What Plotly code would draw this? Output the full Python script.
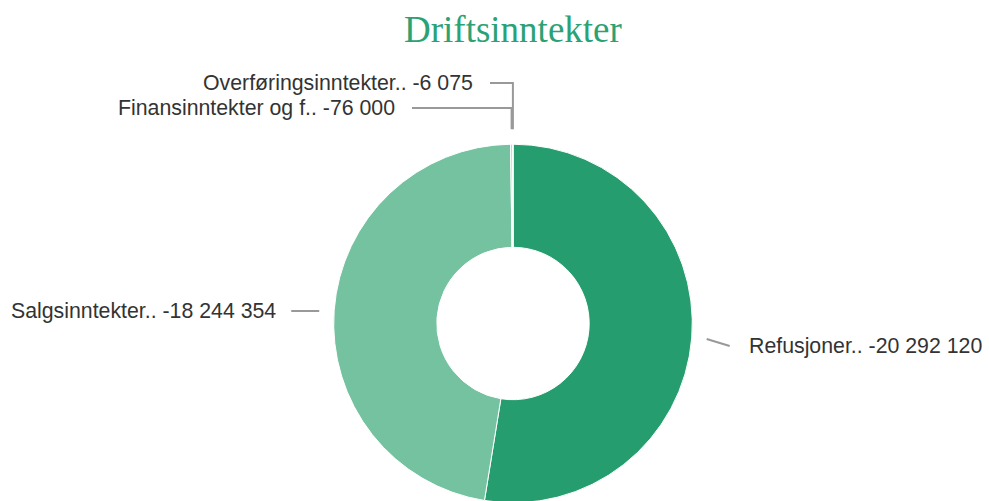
import math
import plotly.graph_objects as go

# ---- data ----
labels = ["Refusjoner..", "Salgsinntekter..", "Finansinntekter og f..", "Overføringsinntekter.."]
values = [20292120, 18244354, 76000, 6075]
display_values = ["-20 292 120", "-18 244 354", "-76 000", "-6 075"]
colors = ["#259d6f", "#74c2a0", "#a9dcc4", "#d4eee2"]
title_text = "Driftsinntekter"

# ---- layout constants (page pixels) ----
W, H = 989, 503
cx, cy = 513, 323.5          # pie centre
R = 179.3                    # outer radius
dom_h = 2 * (H - cy)
dom_w = 2 * R

def px(x, y):
    """page pixel -> paper coords"""
    return x / W, 1 - y / H

fig = go.Figure(go.Pie(
    labels=labels,
    values=values,
    sort=False,
    direction="clockwise",
    rotation=0,
    hole=0.425,
    marker=dict(colors=colors, line=dict(color="white", width=1)),
    textinfo="none",
    hoverinfo="label+value",
    showlegend=False,
    domain=dict(x=[(cx - dom_w / 2) / W, (cx + dom_w / 2) / W],
                y=[0, min(1, dom_h / H)]),
))

# mid-angles of slices (clockwise from 12 o'clock)
total = sum(values)
mids = []
acc = 0
for v in values:
    mids.append((acc + v / 2) / total * 2 * math.pi)
    acc += v

label_y = [346, 311, 108, 83]
shapes = []
annotations = []
line_style = dict(color="#999999", width=2)
Rl = R + 15
for i, (lab, dv, th) in enumerate(zip(labels, display_values, mids)):
    ax = cx + Rl * math.sin(th)
    ay = cy - Rl * math.cos(th)
    ly = label_y[i]
    text = f"{lab} {dv}"
    if i == 0:
        ex = ax + 23
        pts = [(ax, ay), (ex, ly)]
        tx, anchor = ex + 17, "left"
    elif i == 1:
        ex = ax - 28
        pts = [(ax, ly), (ex, ly)]
        tx, anchor = ex - 13, "right"
    else:
        ex = 490 if i == 3 else 412
        pts = [(ax, ay), (ax, ly), (ex, ly)]
        tx, anchor = ex - 15, "right"
    path = "M " + " L ".join(f"{px(x, y)[0]},{px(x, y)[1]}" for x, y in pts)
    shapes.append(dict(type="path", path=path, xref="paper", yref="paper", line=line_style))
    X, Y = px(tx, ly)
    annotations.append(dict(
        x=X, y=Y, xref="paper", yref="paper", text=text, showarrow=False,
        xanchor=anchor, yanchor="middle",
        font=dict(family="Liberation Sans, Arial, sans-serif", size=21.3, color="#333333"),
    ))

tX, tY = px(cx, 30)
annotations.append(dict(
    x=tX, y=tY, xref="paper", yref="paper", text=title_text, showarrow=False,
    xanchor="center", yanchor="middle",
    font=dict(family="Liberation Serif, Times New Roman, serif", size=37, color="#2aa274"),
))

fig.update_layout(
    width=W, height=H,
    margin=dict(l=0, r=0, t=0, b=0),
    paper_bgcolor="white", plot_bgcolor="white",
    shapes=shapes, annotations=annotations,
)

fig.write_html(
    "out.html",
    config={"displayModeBar": False},
    post_script="document.body.style.margin='0';document.body.style.overflow='hidden';"
                "document.documentElement.style.overflow='hidden';",
)
